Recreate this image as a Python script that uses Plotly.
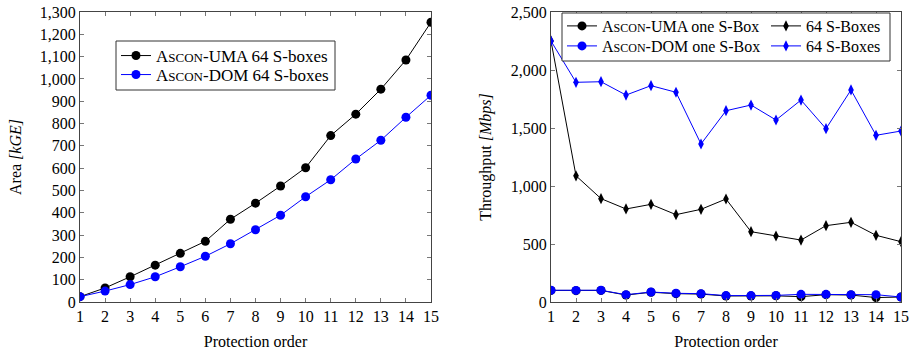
import plotly.graph_objects as go

order = list(range(1, 16))

# Left: Area [kGE]
area_uma = [24, 63, 113, 165, 218, 272, 371, 443, 520, 602, 746, 842, 954, 1085, 1254]
area_dom = [24, 49, 78, 113, 158, 205, 261, 324, 389, 472, 548, 641, 725, 828, 927]

# Right: Throughput [Mbps]
thr_uma_one = [100, 98, 100, 60, 84, 72, 68, 52, 52, 53, 46, 63, 60, 38, 43]
thr_uma_64 = [2250, 1088, 891, 802, 842, 753, 799, 888, 606, 569, 534, 658, 687, 575, 520]
thr_dom_one = [101, 100, 101, 63, 86, 75, 72, 55, 55, 57, 66, 66, 63, 63, 43]
thr_dom_64 = [2250, 1894, 1899, 1784, 1865, 1808, 1362, 1649, 1698, 1569, 1741, 1494, 1828, 1437, 1474]

x_ticks = order
area_ticks = list(range(0, 1301, 100))
thr_ticks = list(range(0, 2501, 500))

SC_L = "A<span style='font-size:13px'>SCON</span>"
SC_R = "A<span style='font-size:12px'>SCON</span>"
FONT = "Liberation Serif"
BLACK = "#000000"
BLUE = "#0000ff"

W, H = 910, 356


def px(x):
    return x / W


def py(y):
    return 1 - y / H


fig = go.Figure()

fig.add_trace(go.Scatter(x=order, y=area_uma, mode="lines+markers",
                         name=SC_L + "-UMA 64 S-boxes",
                         line=dict(color=BLACK, width=1),
                         marker=dict(symbol="circle", size=9, color=BLACK),
                         xaxis="x", yaxis="y", legend="legend"))
fig.add_trace(go.Scatter(x=order, y=area_dom, mode="lines+markers",
                         name=SC_L + "-DOM 64 S-boxes",
                         line=dict(color=BLUE, width=1),
                         marker=dict(symbol="circle", size=9, color=BLUE),
                         xaxis="x", yaxis="y", legend="legend2"))

fig.add_trace(go.Scatter(x=order, y=thr_uma_64, mode="lines+markers",
                         name="64 S-Boxes",
                         line=dict(color=BLACK, width=1),
                         marker=dict(symbol="diamond-tall", size=8, color=BLACK),
                         xaxis="x2", yaxis="y2", legend="legend4"))
fig.add_trace(go.Scatter(x=order, y=thr_dom_64, mode="lines+markers",
                         name="64 S-Boxes",
                         line=dict(color=BLUE, width=1),
                         marker=dict(symbol="diamond-tall", size=8, color=BLUE),
                         xaxis="x2", yaxis="y2", legend="legend6"))
fig.add_trace(go.Scatter(x=order, y=thr_uma_one, mode="lines+markers",
                         name=SC_R + "-UMA one S-Box",
                         line=dict(color=BLACK, width=1),
                         marker=dict(symbol="circle", size=9, color=BLACK),
                         xaxis="x2", yaxis="y2", legend="legend3"))
fig.add_trace(go.Scatter(x=order, y=thr_dom_one, mode="lines+markers",
                         name=SC_R + "-DOM one S-Box",
                         line=dict(color=BLUE, width=1),
                         marker=dict(symbol="circle", size=9, color=BLUE),
                         xaxis="x2", yaxis="y2", legend="legend5"))

axis_common = dict(showline=True, linecolor="#444", linewidth=1, mirror="allticks",
                   ticks="inside", ticklen=4, tickcolor="#777", tickwidth=1,
                   showgrid=False, zeroline=False, automargin=False,
                   ticklabeloverflow="allow",
                   tickfont=dict(family=FONT, size=16, color=BLACK))


def leg(xt, yc, size):
    return dict(x=px(xt - 41), y=py(yc), xanchor="left", yanchor="middle",
                borderwidth=0, bgcolor="rgba(0,0,0,0)",
                font=dict(family=FONT, size=size), tracegroupgap=0, itemwidth=30)


fig.update_layout(
    width=W, height=H,
    margin=dict(l=0, r=0, t=0, b=0, autoexpand=False),
    paper_bgcolor="white", plot_bgcolor="white",
    font=dict(family=FONT, size=16, color=BLACK),
    showlegend=True,
    xaxis=dict(domain=[px(80), px(431)], range=[1, 15], tickvals=x_ticks,
               title=dict(text="Protection order", font=dict(size=16), standoff=11),
               anchor="y", **axis_common),
    yaxis=dict(domain=[py(302), py(12)], range=[0, 1300], tickvals=area_ticks,
               tickformat=",", title=dict(text="Area <i>[kGE]</i>", font=dict(size=16), standoff=14),
               anchor="x", **axis_common),
    xaxis2=dict(domain=[px(551), px(901)], range=[1, 15], tickvals=x_ticks,
                title=dict(text="Protection order", font=dict(size=16), standoff=11),
                anchor="y2", **axis_common),
    yaxis2=dict(domain=[py(302), py(12)], range=[0, 2500], tickvals=thr_ticks,
                tickformat=",", title=dict(text="Throughput <i>[Mbps]</i>", font=dict(size=16), standoff=15),
                anchor="x2", **axis_common),
    legend=leg(157, 56, 17),
    legend2=leg(157, 75, 17),
    legend3=leg(603, 26, 16),
    legend4=leg(807, 26, 16),
    legend5=leg(603, 46, 16),
    legend6=leg(807, 46, 16),
    shapes=[
        dict(type="rect", xref="paper", yref="paper",
             x0=px(116), x1=px(335), y0=py(90), y1=py(41),
             line=dict(color="#333", width=1), fillcolor="white", layer="above"),
        dict(type="rect", xref="paper", yref="paper",
             x0=px(562), x1=px(890), y0=py(61), y1=py(13),
             line=dict(color="#333", width=1), fillcolor="white", layer="above"),
    ],
)

fig.write_html("out.html", config={"displayModeBar": False},
               post_script="document.body.style.margin='0';document.body.style.overflow='hidden';")
